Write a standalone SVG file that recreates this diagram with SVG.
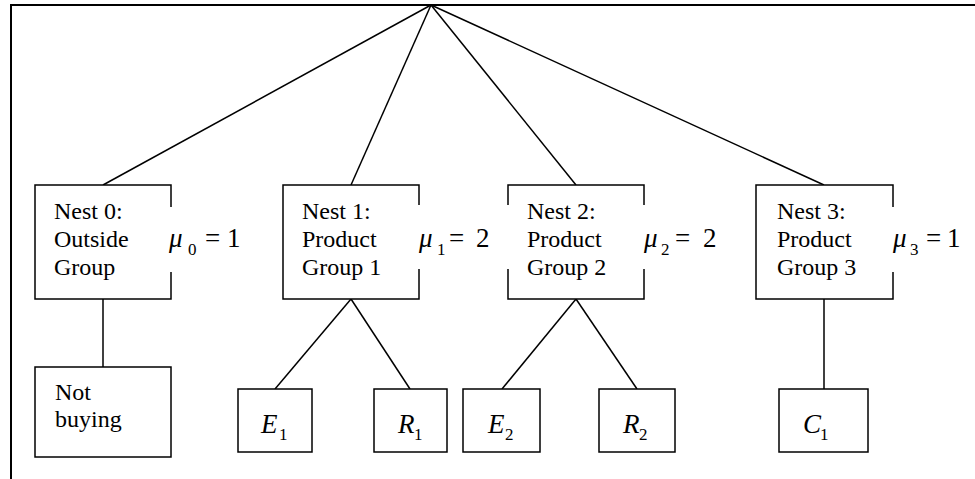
<svg xmlns="http://www.w3.org/2000/svg" width="975" height="479" viewBox="0 0 975 479">
<rect width="975" height="479" fill="#fff"/>
<path id="frame" d="M11,479 V5 H975" fill="none" stroke="#000" stroke-width="2"/>
<g id="connectors" stroke="#000" stroke-width="1.5" fill="none">
<line x1="431" y1="5" x2="103" y2="185"/>
<line x1="431" y1="5" x2="351" y2="185"/>
<line x1="431" y1="5" x2="576" y2="185"/>
<line x1="431" y1="5" x2="824" y2="185"/>
<line x1="103" y1="299" x2="103" y2="367"/>
<line x1="351" y1="299" x2="275" y2="389"/>
<line x1="351" y1="299" x2="410" y2="389"/>
<line x1="576" y1="299" x2="502" y2="389"/>
<line x1="576" y1="299" x2="637" y2="389"/>
<line x1="824" y1="299" x2="824" y2="389"/>
</g>
<g id="nest0"><rect x="35" y="185" width="136" height="114" fill="#fff" stroke="#000" stroke-width="1.5"/>
<text style="font-family:'Liberation Serif',serif;font-size:24px" x="54" y="219">Nest 0:</text>
<text style="font-family:'Liberation Serif',serif;font-size:24px" x="54" y="247">Outside</text>
<text style="font-family:'Liberation Serif',serif;font-size:24px" x="54" y="275">Group</text></g>
<g id="nest1"><rect x="283" y="185" width="136" height="114" fill="#fff" stroke="#000" stroke-width="1.5"/>
<text style="font-family:'Liberation Serif',serif;font-size:24px" x="302" y="219">Nest 1:</text>
<text style="font-family:'Liberation Serif',serif;font-size:24px" x="302" y="247">Product</text>
<text style="font-family:'Liberation Serif',serif;font-size:24px" x="302" y="275">Group 1</text></g>
<g id="nest2"><rect x="508" y="185" width="136" height="114" fill="#fff" stroke="#000" stroke-width="1.5"/>
<text style="font-family:'Liberation Serif',serif;font-size:24px" x="527" y="219">Nest 2:</text>
<text style="font-family:'Liberation Serif',serif;font-size:24px" x="527" y="247">Product</text>
<text style="font-family:'Liberation Serif',serif;font-size:24px" x="527" y="275">Group 2</text></g>
<g id="nest3"><rect x="756" y="185" width="137" height="114" fill="#fff" stroke="#000" stroke-width="1.5"/>
<text style="font-family:'Liberation Serif',serif;font-size:24px" x="777" y="219">Nest 3:</text>
<text style="font-family:'Liberation Serif',serif;font-size:24px" x="777" y="247">Product</text>
<text style="font-family:'Liberation Serif',serif;font-size:24px" x="777" y="275">Group 3</text></g>
<g id="mu0"><rect x="165" y="207" width="80" height="65" fill="#fff"/>
<text style="font-family:'Liberation Serif',serif;font-size:27px;font-style:italic" x="169" y="247">&#956;</text>
<text style="font-family:'Liberation Serif',serif;font-size:17px" x="188" y="255">0</text>
<text style="font-family:'Liberation Serif',serif;font-size:27px" x="205" y="247">=</text>
<text style="font-family:'Liberation Serif',serif;font-size:27px" x="227" y="247">1</text></g>
<g id="mu1"><rect x="414" y="205" width="97" height="64" fill="#fff"/>
<text style="font-family:'Liberation Serif',serif;font-size:27px;font-style:italic" x="419" y="247">&#956;</text>
<text style="font-family:'Liberation Serif',serif;font-size:17px" x="437" y="255">1</text>
<text style="font-family:'Liberation Serif',serif;font-size:27px" x="449" y="247">=</text>
<text style="font-family:'Liberation Serif',serif;font-size:27px" x="476" y="247">2</text></g>
<g id="mu2"><rect x="639" y="205" width="85" height="64" fill="#fff"/>
<text style="font-family:'Liberation Serif',serif;font-size:27px;font-style:italic" x="644" y="247">&#956;</text>
<text style="font-family:'Liberation Serif',serif;font-size:17px" x="661" y="255">2</text>
<text style="font-family:'Liberation Serif',serif;font-size:27px" x="675" y="247">=</text>
<text style="font-family:'Liberation Serif',serif;font-size:27px" x="703" y="247">2</text></g>
<g id="mu3"><rect x="888" y="207" width="80" height="65" fill="#fff"/>
<text style="font-family:'Liberation Serif',serif;font-size:27px;font-style:italic" x="893" y="247">&#956;</text>
<text style="font-family:'Liberation Serif',serif;font-size:17px" x="910" y="255">3</text>
<text style="font-family:'Liberation Serif',serif;font-size:27px" x="926" y="247">=</text>
<text style="font-family:'Liberation Serif',serif;font-size:27px" x="947" y="247">1</text></g>
<g id="notbuying"><rect x="35" y="367" width="136" height="90" fill="#fff" stroke="#000" stroke-width="1.5"/>
<text style="font-family:'Liberation Serif',serif;font-size:24px" x="55" y="400">Not</text>
<text style="font-family:'Liberation Serif',serif;font-size:24px" x="55" y="427">buying</text></g>
<g id="e1"><rect x="238" y="389" width="74" height="63" fill="#fff" stroke="#000" stroke-width="1.5"/>
<text style="font-family:'Liberation Serif',serif;font-size:27px;font-style:italic" x="261" y="433">E</text>
<text style="font-family:'Liberation Serif',serif;font-size:17px" x="279" y="440">1</text></g>
<g id="r1"><rect x="374" y="389" width="73" height="63" fill="#fff" stroke="#000" stroke-width="1.5"/>
<text style="font-family:'Liberation Serif',serif;font-size:27px;font-style:italic" x="398" y="433">R</text>
<text style="font-family:'Liberation Serif',serif;font-size:17px" x="414" y="440">1</text></g>
<g id="e2"><rect x="463" y="389" width="77" height="63" fill="#fff" stroke="#000" stroke-width="1.5"/>
<text style="font-family:'Liberation Serif',serif;font-size:27px;font-style:italic" x="488" y="433">E</text>
<text style="font-family:'Liberation Serif',serif;font-size:17px" x="505" y="440">2</text></g>
<g id="r2"><rect x="599" y="389" width="76" height="63" fill="#fff" stroke="#000" stroke-width="1.5"/>
<text style="font-family:'Liberation Serif',serif;font-size:27px;font-style:italic" x="623" y="433">R</text>
<text style="font-family:'Liberation Serif',serif;font-size:17px" x="639" y="440">2</text></g>
<g id="c1"><rect x="779" y="389" width="89" height="63" fill="#fff" stroke="#000" stroke-width="1.5"/>
<text style="font-family:'Liberation Serif',serif;font-size:27px;font-style:italic" x="803" y="433">C</text>
<text style="font-family:'Liberation Serif',serif;font-size:17px" x="820" y="440">1</text></g>
</svg>
